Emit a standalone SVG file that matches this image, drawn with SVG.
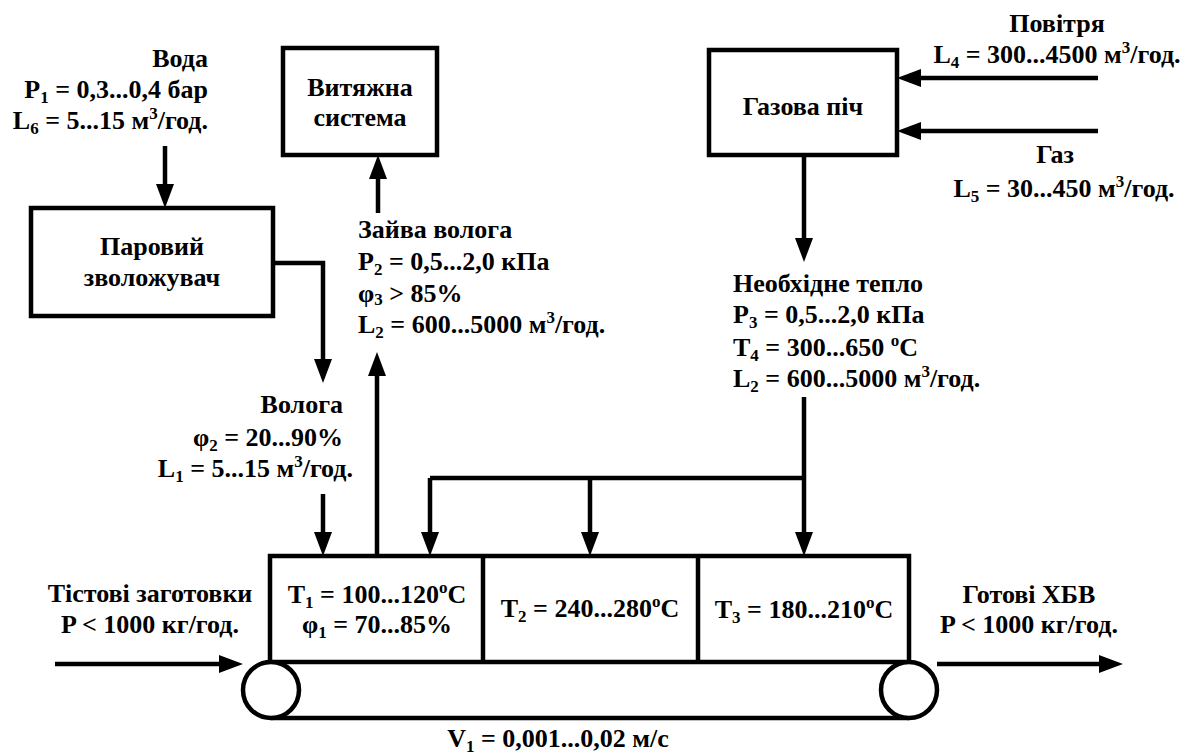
<svg xmlns="http://www.w3.org/2000/svg" width="1197" height="755" viewBox="0 0 1197 755">
<style>
text{font-family:"Liberation Serif","Times New Roman",serif;font-weight:bold;font-size:26px;fill:#000}
.s{font-size:17px}
.box{fill:#fff;stroke:#000;stroke-width:4.5}
.ln{fill:none;stroke:#000;stroke-width:4.5}
.c{fill:none;stroke:#000;stroke-width:4.5;marker-end:url(#ah)}
.m{text-anchor:middle}
.e{text-anchor:end}
</style>
<defs>
<marker id="ah" markerUnits="userSpaceOnUse" markerWidth="24" markerHeight="18" refX="2" refY="9" orient="auto" overflow="visible">
<path d="M0,0 L24,9 L0,18 z" fill="#000"/>
</marker>
</defs>
<rect width="1197" height="755" fill="#fff"/>

<g id="connectors">
<line class="c" x1="165" y1="146" x2="165" y2="186"/>
<polyline class="c" points="273,263 323,263 323,361"/>
<line class="c" x1="323" y1="494" x2="323" y2="534"/>
<line class="c" x1="378" y1="213" x2="378" y2="177"/>
<line class="c" x1="377" y1="556" x2="377" y2="374"/>
<line class="c" x1="1098" y1="78" x2="919" y2="78"/>
<line class="c" x1="1098" y1="131" x2="919" y2="131"/>
<line class="c" x1="804" y1="155" x2="804" y2="240"/>
<line class="c" x1="804" y1="397" x2="804" y2="534"/>
<polyline class="ln" points="804,478 430,478"/>
<line class="c" x1="430" y1="478" x2="430" y2="534"/>
<line class="c" x1="590" y1="478" x2="590" y2="534"/>
<line class="c" x1="55" y1="664" x2="221" y2="664"/>
<line class="c" x1="937" y1="664" x2="1101" y2="664"/>
</g>

<g id="water-label">
<text class="e" x="208" y="67">Вода</text>
<text class="e" x="208" y="98">P<tspan class="s" dy="5">1</tspan><tspan dy="-5"> = 0,3...0,4 бар</tspan></text>
<text class="e" x="208" y="129">L<tspan class="s" dy="5">6</tspan><tspan dy="-5"> = 5...15 м</tspan><tspan class="s" dy="-10">3</tspan><tspan dy="10">/год.</tspan></text>
</g>

<g id="humidifier">
<rect class="box" x="31" y="208" width="242" height="108"/>
<text class="m" x="152" y="255">Паровий</text>
<text class="m" x="152" y="286">зволожувач</text>
</g>

<g id="exhaust">
<rect class="box" x="283" y="48" width="154" height="107"/>
<text class="m" x="360" y="96">Витяжна</text>
<text class="m" x="360" y="126">система</text>
</g>

<g id="moisture-label">
<text class="e" x="343" y="413">Волога</text>
<text class="e" x="343" y="446">φ<tspan class="s" dy="5">2</tspan><tspan dy="-5"> = 20...90%</tspan></text>
<text class="e" x="353" y="477">L<tspan class="s" dy="5">1</tspan><tspan dy="-5"> = 5...15 м</tspan><tspan class="s" dy="-10">3</tspan><tspan dy="10">/год.</tspan></text>
</g>

<g id="excess-label">
<text x="358" y="238">Зайва волога</text>
<text x="358" y="270">P<tspan class="s" dy="5">2</tspan><tspan dy="-5"> = 0,5...2,0 кПа</tspan></text>
<text x="358" y="302">φ<tspan class="s" dy="3">3</tspan><tspan dy="-3"> &gt; 85%</tspan></text>
<text x="358" y="333">L<tspan class="s" dy="5">2</tspan><tspan dy="-5"> = 600...5000 м</tspan><tspan class="s" dy="-10">3</tspan><tspan dy="10">/год.</tspan></text>
</g>

<g id="gas-furnace">
<rect class="box" x="709" y="50" width="188" height="105"/>
<text class="m" x="803" y="115">Газова піч</text>
</g>

<g id="air-label">
<text class="m" x="1057" y="32">Повітря</text>
<text class="m" x="1057" y="63">L<tspan class="s" dy="5">4</tspan><tspan dy="-5"> = 300...4500 м</tspan><tspan class="s" dy="-10">3</tspan><tspan dy="10">/год.</tspan></text>
</g>

<g id="gas-label">
<text class="m" x="1055" y="163">Газ</text>
<text class="m" x="1064" y="197">L<tspan class="s" dy="5">5</tspan><tspan dy="-5"> = 30...450 м</tspan><tspan class="s" dy="-10">3</tspan><tspan dy="10">/год.</tspan></text>
</g>

<g id="heat-label">
<text x="733" y="292">Необхідне тепло</text>
<text x="733" y="323">P<tspan class="s" dy="5">3</tspan><tspan dy="-5"> = 0,5...2,0 кПа</tspan></text>
<text x="733" y="356">T<tspan class="s" dy="5">4</tspan><tspan dy="-5"> = 300...650 </tspan><tspan class="s" dy="-10">o</tspan><tspan dy="10">C</tspan></text>
<text x="733" y="387">L<tspan class="s" dy="5">2</tspan><tspan dy="-5"> = 600...5000 м</tspan><tspan class="s" dy="-10">3</tspan><tspan dy="10">/год.</tspan></text>
</g>

<g id="oven">
<rect class="box" x="270" y="556" width="639" height="106"/>
<line class="ln" x1="483" y1="556" x2="483" y2="662"/>
<line class="ln" x1="698" y1="556" x2="698" y2="662"/>
<text class="m" x="377" y="603">T<tspan class="s" dy="5">1</tspan><tspan dy="-5"> = 100...120</tspan><tspan class="s" dy="-10">o</tspan><tspan dy="10">C</tspan></text>
<text class="m" x="377" y="633">φ<tspan class="s" dy="5">1</tspan><tspan dy="-5"> = 70...85%</tspan></text>
<text class="m" x="590" y="617">T<tspan class="s" dy="5">2</tspan><tspan dy="-5"> = 240...280</tspan><tspan class="s" dy="-10">o</tspan><tspan dy="10">C</tspan></text>
<text class="m" x="804" y="618">T<tspan class="s" dy="5">3</tspan><tspan dy="-5"> = 180...210</tspan><tspan class="s" dy="-10">o</tspan><tspan dy="10">C</tspan></text>
</g>

<g id="conveyor">
<line class="ln" x1="271" y1="718" x2="909" y2="718"/>
<circle class="box" cx="271" cy="690" r="28"/>
<circle class="box" cx="909" cy="690" r="28"/>
<text class="m" x="558" y="747">V<tspan class="s" dy="5">1</tspan><tspan dy="-5"> = 0,001...0,02 м/с</tspan></text>
</g>

<g id="input-label">
<text class="m" x="150" y="602">Тістові заготовки</text>
<text class="m" x="150" y="633">P &lt; 1000 кг/год.</text>
</g>

<g id="output-label">
<text class="m" x="1029" y="603">Готові ХБВ</text>
<text class="m" x="1029" y="633">P &lt; 1000 кг/год.</text>
</g>
</svg>
